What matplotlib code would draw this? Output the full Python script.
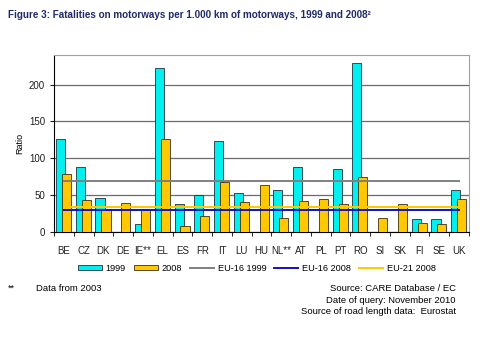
import matplotlib
matplotlib.use('Agg')
import matplotlib.pyplot as plt
import numpy as np
from matplotlib.patches import Patch
from matplotlib.lines import Line2D

matplotlib.rcParams['font.family'] = ['Liberation Sans', 'DejaVu Sans']

# 数据
countries = ['BE', 'CZ', 'DK', 'DE', 'IE**', 'EL', 'ES', 'FR', 'IT', 'LU', 'HU',
             'NL**', 'AT', 'PL', 'PT', 'RO', 'SI', 'SK', 'FI', 'SE', 'UK']
v1999 = [126, 88, 46, 0, 10, 223, 37, 50, 123, 52, 0,
         57, 88, 0, 85, 229, 0, 0, 17, 17, 57]
v2008 = [79, 43, 31, 39, 30, 126, 8, 21, 68, 41, 63,
         18, 42, 45, 37, 74, 19, 37, 12, 10, 44]
eu16_1999 = 69
eu16_2008 = 30
eu21_2008 = 33

cyan = '#00F0F0'
gold = '#FFC800'

fig = plt.figure(figsize=(4.8, 3.41), dpi=100)
ax = fig.add_axes([0.1125, 0.3205, 0.8645, 0.518])

x = np.arange(len(countries))
w = 0.46
ax.bar(x - 0.17, v1999, w, color=cyan, edgecolor='#203040', linewidth=0.6, zorder=3)
ax.bar(x + 0.13, v2008, w, color=gold, edgecolor='#403010', linewidth=0.6, zorder=4)

xl = [x[0], x[-1]]
ax.plot(xl, [eu16_1999] * 2, color='#7F7F7F', lw=1.4, zorder=5)
ax.plot(xl, [eu16_2008] * 2, color='#1010C8', lw=1.4, zorder=5)
ax.plot(xl, [eu21_2008] * 2, color='#FFC800', lw=1.4, zorder=5)

ax.set_xlim(-0.5, len(countries) - 0.5)
ax.set_ylim(0, 240)
ax.set_yticks([0, 50, 100, 150, 200])
ax.yaxis.grid(True, color='#6A6A6A', lw=0.9, zorder=0)
ax.set_axisbelow(True)
ax.set_xticks(x)
ax.set_xticklabels(countries, fontsize=7, color='#202020')
ax.tick_params(axis='x', length=0, pad=10)
ax.set_xticks(np.arange(-0.5, len(countries), 1), minor=True)
ax.tick_params(axis='x', which='minor', length=3, direction='out', color='black')
ax.tick_params(axis='y', labelsize=7, length=3, colors='#202020', direction='out')
ax.set_ylabel('Ratio', fontsize=6.5, labelpad=3)

for s in ['top', 'right']:
    ax.spines[s].set_color('#A0A0A0')
    ax.spines[s].set_linewidth(0.8)
for s in ['left', 'bottom']:
    ax.spines[s].set_color('black')
    ax.spines[s].set_linewidth(0.8)

# 图例
handles = [Patch(facecolor=cyan, edgecolor='#203040', lw=0.6, label='1999'),
           Patch(facecolor=gold, edgecolor='#403010', lw=0.6, label='2008'),
           Line2D([], [], color='#7F7F7F', lw=1.4, label='EU-16 1999'),
           Line2D([], [], color='#1010C8', lw=1.4, label='EU-16 2008'),
           Line2D([], [], color='#FFC800', lw=1.4, label='EU-21 2008')]
fig.legend(handles=handles, loc='center', bbox_to_anchor=(0.535, 0.213), ncol=5,
           frameon=False, fontsize=6.6, handlelength=2.6, handleheight=0.45,
           columnspacing=0.9, handletextpad=0.4)

fig.text(0.017, 0.955, 'Figure 3: Fatalities on motorways per 1.000 km of motorways, 1999 and 2008²',
         fontsize=7.1, fontweight='bold', color='#1F2A6B', va='center')
fig.text(0.017, 0.155, '**', fontsize=6.5, va='center')
fig.text(0.075, 0.155, 'Data from 2003', fontsize=6.8, va='center')
fig.text(0.95, 0.155, 'Source: CARE Database / EC', fontsize=6.8, va='center', ha='right')
fig.text(0.95, 0.120, 'Date of query: November 2010', fontsize=6.8, va='center', ha='right')
fig.text(0.95, 0.087, 'Source of road length data:  Eurostat', fontsize=6.8, va='center', ha='right')

fig.savefig('out.png', dpi=100)
